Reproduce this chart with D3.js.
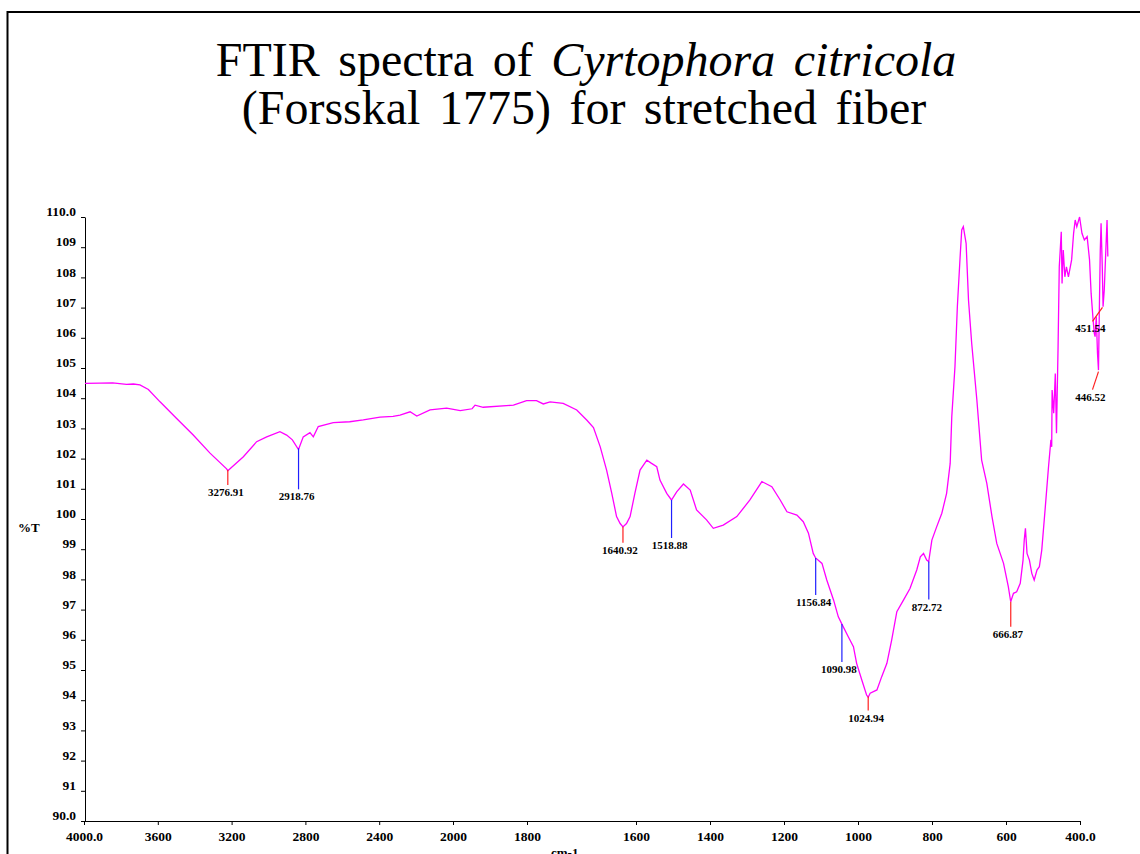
<!DOCTYPE html>
<html>
<head>
    <meta charset="utf-8" />
    <title>FTIR spectra</title>
    <script src="https://cdn.jsdelivr.net/npm/d3@7/dist/d3.min.js"></script>
    <style>
        body { margin: 0; background: #fff; }
        svg { display: block; }
        .title { font-family: "Liberation Serif", "Times New Roman", serif; font-size: 48px; fill: #000; word-spacing: 6.5px; }
        .tick text { font-family: "Liberation Serif", serif; font-weight: bold; font-size: 13.5px; fill: #000; }
        .axis path, .axis line { stroke: #000; }
        .peak-label { font-family: "Liberation Serif", serif; font-weight: bold; font-size: 11px; }
        .axis-label { font-family: "Liberation Serif", serif; font-weight: bold; font-size: 13px; }
    </style>
</head>
<body>
    <div id="chart"></div>

    <script type="text/javascript">
        // spectrum (wavenumber cm-1 / %T)
        var wavenumbers = [4000, 3924, 3860, 3790, 3755, 3722, 3679, 3620, 3536, 3452, 3367, 3283, 3277,
            3198, 3131, 3080, 3013, 2979, 2950, 2919, 2895, 2861, 2844, 2819, 2743, 2660, 2591, 2506,
            2440, 2405, 2354, 2320, 2253, 2169, 2100, 2040, 2025, 1992, 1916, 1883, 1858, 1841, 1824,
            1791, 1757, 1732, 1715, 1698, 1682, 1669, 1657, 1648, 1641, 1632, 1623, 1611, 1598, 1581,
            1570, 1556, 1548, 1531, 1519, 1506, 1489, 1472, 1456, 1431, 1414, 1389, 1355, 1322, 1292,
            1267, 1246, 1229, 1204, 1188, 1175, 1163, 1157, 1141, 1129, 1112, 1100, 1091, 1075, 1062,
            1054, 1041, 1029, 1025, 1020, 1003, 991, 978, 966, 953, 936, 920, 903, 894, 886, 878, 873,
            865, 853, 840, 828, 819, 815, 807, 801, 794, 790, 786, 779, 773, 765, 752, 740, 727, 714,
            702, 685, 673, 667, 660, 652, 643, 636, 633, 630, 626, 620, 614, 608, 601, 595, 589, 580,
            572, 566, 564, 563, 559, 555, 552, 548, 545, 540, 538, 535, 531, 527, 522, 514, 509, 505,
            501, 494, 488, 482, 475, 469, 465, 460, 457, 455, 452, 449, 446.5, 444, 442, 440, 437, 435,
            432, 428, 425, 423];
        var transmittance = [104.49, 104.50, 104.51, 104.46, 104.47, 104.44, 104.29, 103.88, 103.33, 102.78, 102.18, 101.66, 101.60,
            102.06, 102.56, 102.72, 102.89, 102.78, 102.62, 102.30, 102.72, 102.86, 102.72, 103.06, 103.19, 103.22, 103.28, 103.37,
            103.40, 103.44, 103.55, 103.41, 103.61, 103.67, 103.59, 103.65, 103.77, 103.70, 103.77, 103.92, 103.92, 103.81, 103.88,
            103.83, 103.61, 103.28, 103.03, 102.39, 101.62, 100.85, 100.08, 99.85, 99.74, 99.85, 100.08, 100.85, 101.62, 101.95,
            101.85, 101.73, 101.29, 100.85, 100.63, 100.90, 101.16, 100.96, 100.30, 99.97, 99.69, 99.80, 100.08, 100.63, 101.24,
            101.07, 100.63, 100.24, 100.13, 99.91, 99.53, 98.86, 98.71, 98.53, 97.98, 97.32, 96.76, 96.52, 96.10, 95.77,
            95.22, 94.67, 94.17, 94.10, 94.23, 94.34, 94.78, 95.22, 95.99, 96.93, 97.32, 97.70, 98.31, 98.75, 98.86, 98.64, 98.59,
            99.30, 99.74, 100.19, 100.85, 101.84, 103.39, 105.04, 107.03, 108.69, 109.57, 109.68, 109.13, 107.25, 105.82, 103.94, 101.95, 101.18, 100.08,
            99.19, 98.53, 97.76, 97.26, 97.54, 97.59, 97.87, 98.64, 99.30, 99.69, 98.86, 98.64, 98.20, 97.98, 98.31, 98.42, 98.97, 100.41,
            101.73, 102.62, 102.39, 104.27, 103.50, 104.82, 102.84, 105.71, 108.35, 109.51, 107.80, 108.91, 108.02, 108.35, 108.02, 108.58, 109.46, 109.90,
            109.68, 110.0, 109.46, 109.24, 109.35, 108.58, 107.47, 106.59, 106.15, 106.04, 106.70, 105.49, 104.93, 107.25, 108.91, 109.79, 108.35, 107.03,
            107.58, 108.91, 109.90, 108.69];

        // labelled peaks
        var peakWavenumbers = [3276.91, 2918.76, 1640.92, 1518.88, 1156.84, 1090.98, 1024.94, 872.72, 666.87, 451.54, 446.52];
        var peakTransmittance = [101.62, 102.34, 99.74, 100.63, 98.71, 96.52, 94.12, 98.59, 97.26, 107.01, 104.88];
        var peakKind = ["min", "shoulder", "min", "shoulder", "shoulder", "shoulder", "min", "shoulder", "min", "min", "min"];

        // axis ticks
        var xTickValues = [4000, 3600, 3200, 2800, 2400, 2000, 1800, 1600, 1400, 1200, 1000, 800, 600, 400];
        var yTickValues = d3.range(90, 111);

        function draw() {
            var width = 1140, height = 854;
            var left = 85, plotTop = 217, plotBottom = 821;

            var svg = d3.select("#chart").append("svg")
                .attr("width", width)
                .attr("height", height);

            // frame
            svg.append("path")
                .attr("d", "M7.5," + height + "V12H" + width)
                .attr("fill", "none")
                .attr("stroke", "#000")
                .attr("stroke-width", 2);

            // title
            var title = svg.append("text").attr("class", "title")
                .attr("x", 586).attr("y", 76).attr("text-anchor", "middle");
            title.append("tspan").text("FTIR spectra of ");
            title.append("tspan").style("font-style", "italic").text("Cyrtophora citricola");
            svg.append("text").attr("class", "title")
                .attr("x", 584).attr("y", 124).attr("text-anchor", "middle")
                .text("(Forsskal 1775) for stretched fiber");

            // the trace and the printed axis use different spacings (as in the original)
            var x = d3.scaleLinear().domain([4000, 2000, 400]).range([left, 480, 1117]);
            var xAxisScale = d3.scaleLinear().domain([4000, 2000, 1800, 1600, 400]).range([left - 1, 453, 527, 636, 1080]);
            var y = d3.scaleLinear().domain([90, 110]).range([plotBottom, plotTop]);

            var fmtX = function (d) { return (d === 4000 || d === 400) ? d3.format(".1f")(d) : d; };
            var fmtY = function (d) { return (d === 90 || d === 110) ? d3.format(".1f")(d) : d; };

            svg.append("g").attr("class", "axis")
                .attr("transform", "translate(0," + plotBottom + ")")
                .call(d3.axisBottom(xAxisScale).tickValues(xTickValues).tickFormat(fmtX).tickSize(4).tickSizeOuter(0))
                .call(g => g.selectAll(".tick text").attr("dy", "0.95em"));

            svg.append("g").attr("class", "axis")
                .attr("transform", "translate(" + left + ",0)")
                .call(d3.axisLeft(y).tickValues(yTickValues).tickFormat(fmtY).tickSize(4).tickSizeOuter(0))
                .call(g => g.selectAll(".tick text").attr("x", -9).attr("dy", "-0.1em"));

            svg.append("text").attr("class", "axis-label").attr("x", 18).attr("y", 532).text("%T");
            svg.append("text").attr("class", "axis-label").attr("x", 551).attr("y", 857).text("cm-1");

            // spectrum
            var points = wavenumbers.map((w, i) => [w, transmittance[i]]);
            svg.append("path")
                .datum(points)
                .attr("fill", "none")
                .attr("stroke", "#ff00ff")
                .attr("stroke-width", 1.3)
                .attr("d", d3.line().x(d => x(d[0])).y(d => y(d[1])));

            // peak markers: lead length, anchor shift and label shift
            var leadLength = [15, 41, 16, 38, 37, 38, 14, 38, 25, 14, 18];
            var anchorDx = [0, 0, 0, 0, 0, 0, 0, 0, 0, 6, 0];
            var labelDx = [-2, -2, -3, -2, -2, -3, -2, -2, -3, -6, -8];

            peakWavenumbers.forEach(function (w, i) {
                var px = x(w), py = y(peakTransmittance[i]);
                var color = peakKind[i] === "min" ? "#ff2020" : "#2020ff";
                var lx = px + labelDx[i], ly = py + leadLength[i];
                var slanted = anchorDx[i] !== 0 || labelDx[i] < -5;
                svg.append("line")
                    .attr("x1", px + anchorDx[i]).attr("y1", py)
                    .attr("x2", slanted ? lx + 2 : px).attr("y2", ly)
                    .attr("stroke", color)
                    .attr("stroke-width", 1.2);
                svg.append("text").attr("class", "peak-label")
                    .attr("x", lx).attr("y", ly + 11)
                    .attr("text-anchor", "middle")
                    .text(w.toFixed(2));
            });
        }

        draw();
    </script>
</body>
</html>
